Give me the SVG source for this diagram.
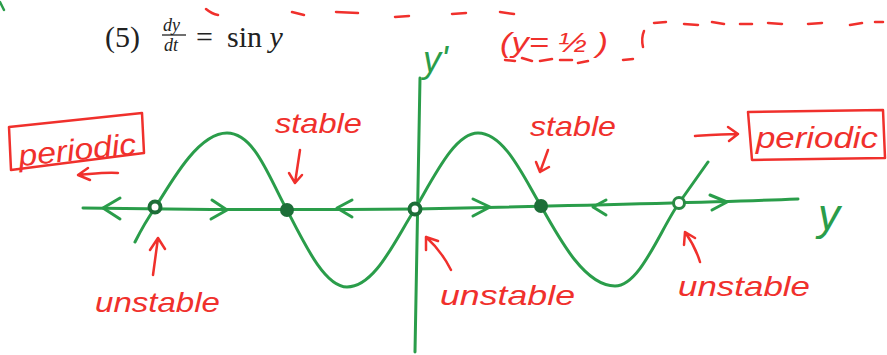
<svg xmlns="http://www.w3.org/2000/svg" width="887" height="355" viewBox="0 0 887 355">
<style>
.g{fill:none;stroke:#2a9d4a;stroke-width:3;stroke-linecap:round;stroke-linejoin:round}
.r{fill:none;stroke:#f0302c;stroke-width:2.5;stroke-linecap:round;stroke-linejoin:round}
.rt{fill:#f0302c;font-family:"Liberation Sans",Arial,sans-serif;font-style:italic}
.gt{fill:#2a9d4a;font-family:"Liberation Sans",Arial,sans-serif;font-style:italic}
.eq{fill:#222;font-family:"Liberation Serif","Times New Roman",serif}
.dot{fill:#1d6e38}
.ring{fill:#fff;stroke:#1d6e38;stroke-width:4}
</style>
<rect width="887" height="355" fill="#fff"/>
<!-- cut-off top marks -->
<g id="top-marks" class="r">
<path d="M0,2 L4,10" style="stroke:#2a9d4a"/>
<path d="M292,12 l12,3 M336,12 l22,1 M395,17 l14,-1 M452,14 l14,-1 M500,12 l14,2 M206,9 q6,5 12,6"/>
<path d="M505,60 l10,1 M522,58 l10,3 M540,61 l12,-2 M560,60 l12,0 M578,63 l10,-2 M623,60 l10,-1"/>
<path d="M644,31 q-3,7 -1,16"/>
<path d="M654,23 l12,-1 M684,24 l14,1 M712,22 l12,2 M740,24 l12,0 M768,23 l14,1 M808,24 l14,-1 M850,25 l12,-2 M875,22 l8,0"/>
</g>
<!-- equation -->
<g id="equation">
<text class="eq" x="105" y="47" font-size="30">(5)</text>
<text class="eq" x="163" y="31" font-size="18" font-style="italic">dy</text>
<line x1="162" y1="35" x2="186" y2="35" stroke="#222" stroke-width="1.3"/>
<text class="eq" x="164" y="51" font-size="18" font-style="italic">dt</text>
<text class="eq" x="196" y="47" font-size="30">=</text>
<text class="eq" x="227" y="47" font-size="30">sin <tspan font-style="italic">y</tspan></text>
</g>
<g id="half-note">
<text class="rt" x="500" y="52" font-size="28" textLength="108" lengthAdjust="spacingAndGlyphs">(y= ½ )</text>
</g>
<!-- axes and curve (connectors) -->
<g id="connectors">
<path class="g" d="M420,78 L415,352"/>
<path class="g" d="M83,208 C200,210 300,210 415,209 C560,206 700,203 798,199"/>
<path class="g" d="M135,242 C140,232 148,218 155,208 C175,175 200,133 227,133 C255,133 270,180 287,210 C305,245 325,287 347,287 C375,287 395,240 415,209 C435,175 455,133 478,133 C505,133 525,180 541,206 C560,240 585,286 615,286 C640,286 660,230 679,203 L708,162"/>
<!-- flow arrows on y axis -->
<path class="g" d="M120,198 L103,208 L120,219"/>
<path class="g" d="M212,200 L227,210 L211,219"/>
<path class="g" d="M352,200 L337,208 L352,217"/>
<path class="g" d="M473,199 L490,207 L473,216"/>
<path class="g" d="M606,200 L593,207 L606,215"/>
<path class="g" d="M710,195 L727,202 L712,210"/>
<!-- red pointer arrows -->
<path class="r" d="M118,173 C105,172 92,174 78,175 M88,168 L78,175 L90,180"/>
<path class="r" d="M300,150 L295,183 M289,173 L295,183 L302,175"/>
<path class="r" d="M548,150 L540,172 M536,162 L540,172 L549,167"/>
<path class="r" d="M695,136 C710,135 724,134 738,134 M728,127 L738,134 L729,141"/>
<path class="r" d="M153,275 L158,238 M150,250 L158,238 L165,249"/>
<path class="r" d="M451,270 C445,258 436,246 426,237 M426,250 L426,237 L438,241"/>
<path class="r" d="M700,262 C697,252 692,242 685,232 M684,245 L685,232 L695,238"/>
</g>
<!-- equilibrium points -->
<g id="eq-unstable-left"><circle class="ring" cx="155" cy="207" r="5.5"/></g>
<g id="eq-stable-left"><circle class="dot" cx="287" cy="210" r="7"/></g>
<g id="eq-unstable-mid"><circle class="ring" cx="415" cy="209" r="5.5"/></g>
<g id="eq-stable-right"><circle class="dot" cx="541" cy="206" r="7"/></g>
<g id="eq-unstable-right"><circle class="ring" cx="679" cy="203" r="5.5" style="stroke-width:3;stroke:#2a8a44"/></g>
<!-- axis labels -->
<g id="label-yprime"><text class="gt" x="423" y="72" font-size="36">y'</text></g>
<g id="label-y"><text class="gt" x="818" y="230" font-size="44">y</text></g>
<!-- red labels -->
<g id="periodic-left">
<path class="r" d="M9,127 L142,113 L144,153 L11,170 Z"/>
<text class="rt" x="18" y="160" font-size="30" textLength="118" lengthAdjust="spacingAndGlyphs" transform="rotate(-6 78 148)">periodic</text>
</g>
<g id="periodic-right">
<path class="r" d="M748,112 L883,110 L885,158 L752,160 Z"/>
<text class="rt" x="756" y="148" font-size="30" textLength="122" lengthAdjust="spacingAndGlyphs">periodic</text>
</g>
<g id="stable-left"><text class="rt" x="275" y="133" font-size="28" textLength="87" lengthAdjust="spacingAndGlyphs">stable</text></g>
<g id="stable-right"><text class="rt" x="530" y="136" font-size="28" textLength="86" lengthAdjust="spacingAndGlyphs">stable</text></g>
<g id="unstable-left"><text class="rt" x="95" y="312" font-size="28" textLength="125" lengthAdjust="spacingAndGlyphs">unstable</text></g>
<g id="unstable-mid"><text class="rt" x="440" y="305" font-size="28" textLength="135" lengthAdjust="spacingAndGlyphs">unstable</text></g>
<g id="unstable-right"><text class="rt" x="678" y="296" font-size="28" textLength="132" lengthAdjust="spacingAndGlyphs">unstable</text></g>
</svg>
